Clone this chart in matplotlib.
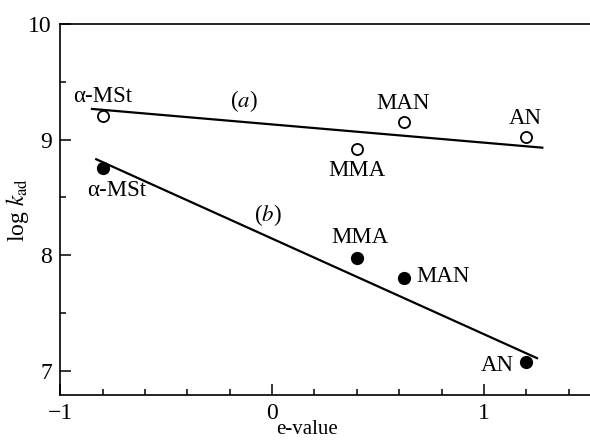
import matplotlib
matplotlib.use("Agg")
import matplotlib.pyplot as plt
from matplotlib.ticker import MultipleLocator

plt.rcParams['font.family'] = ['Liberation Serif', 'DejaVu Serif']
plt.rcParams['mathtext.fontset'] = 'stix'

# e-value and log k_ad
monomers = ['α-MSt', 'MMA', 'MAN', 'AN']
e_val = [-0.80, 0.40, 0.62, 1.20]
logk_a = [9.20, 8.92, 9.15, 9.02]   # open circles, line (a)
logk_b = [8.75, 7.98, 7.80, 7.08]   # filled circles, line (b)

# fitted lines (end points)
fit_a_x = [-0.85, 1.275]
fit_a_y = [9.265, 8.93]
fit_b_x = [-0.83, 1.25]
fit_b_y = [8.83, 7.11]

fs = 16.5

fig = plt.figure(figsize=(5.9, 4.43), dpi=100)
ax = fig.add_axes([0.102, 0.108, 0.898, 0.838])

ax.plot(fit_a_x, fit_a_y, color='black', lw=1.6)
ax.plot(fit_b_x, fit_b_y, color='black', lw=1.6)
ax.plot(e_val, logk_a, 'o', ms=8, mfc='white', mec='black', mew=1.3)
ax.plot(e_val, logk_b, 'o', ms=8.5, mfc='black', mec='black')

# labels for open points
ax.annotate(monomers[0], (e_val[0], logk_a[0]), xytext=(0, 7), textcoords='offset points',
            ha='center', va='bottom', fontsize=fs)
ax.annotate(monomers[1], (e_val[1], logk_a[1]), xytext=(0, -8), textcoords='offset points',
            ha='center', va='top', fontsize=fs)
ax.annotate(monomers[2], (e_val[2], logk_a[2]), xytext=(0, 6), textcoords='offset points',
            ha='center', va='bottom', fontsize=fs)
ax.annotate(monomers[3], (e_val[3], logk_a[3]), xytext=(-1, 6), textcoords='offset points',
            ha='center', va='bottom', fontsize=fs)

# labels for filled points
ax.annotate(monomers[0], (e_val[0], logk_b[0]), xytext=(10, -8), textcoords='offset points',
            ha='center', va='top', fontsize=fs)
ax.annotate(monomers[1], (e_val[1], logk_b[1]), xytext=(2, 7), textcoords='offset points',
            ha='center', va='bottom', fontsize=fs)
ax.annotate(monomers[2], (e_val[2], logk_b[2]), xytext=(9, 1), textcoords='offset points',
            ha='left', va='center', fontsize=fs)
ax.annotate(monomers[3], (e_val[3], logk_b[3]), xytext=(-9, -3), textcoords='offset points',
            ha='right', va='center', fontsize=fs)

ax.text(-0.135, 9.33, '($a$)', ha='center', va='center', fontsize=fs)
ax.text(-0.02, 8.35, '($b$)', ha='center', va='center', fontsize=fs)

ax.set_xlim(-1, 1.5)
ax.set_ylim(6.79, 10)
ax.xaxis.set_major_locator(MultipleLocator(1))
ax.xaxis.set_minor_locator(MultipleLocator(0.2))
ax.yaxis.set_major_locator(MultipleLocator(1))
ax.yaxis.set_minor_locator(MultipleLocator(0.5))
ax.tick_params(which='both', direction='in', top=False, right=False, labelsize=17, width=1.1)
ax.tick_params(which='major', length=8, pad=6)
ax.tick_params(which='minor', length=4)
ax.xaxis.set_major_formatter(plt.FuncFormatter(lambda v, p: f'{v:.0f}'.replace('-', '\u2212')))

for s in ['left', 'bottom', 'top']:
    ax.spines[s].set_linewidth(1.2)
ax.spines['right'].set_visible(False)

ax.set_xlabel('e-value', fontsize=15)
ax.xaxis.set_label_coords(0.465, -0.066)
ax.set_ylabel(r'log $k_{\rm ad}$', fontsize=17)
ax.yaxis.set_label_coords(-0.056, 0.5)

fig.savefig('out.png', dpi=100)
